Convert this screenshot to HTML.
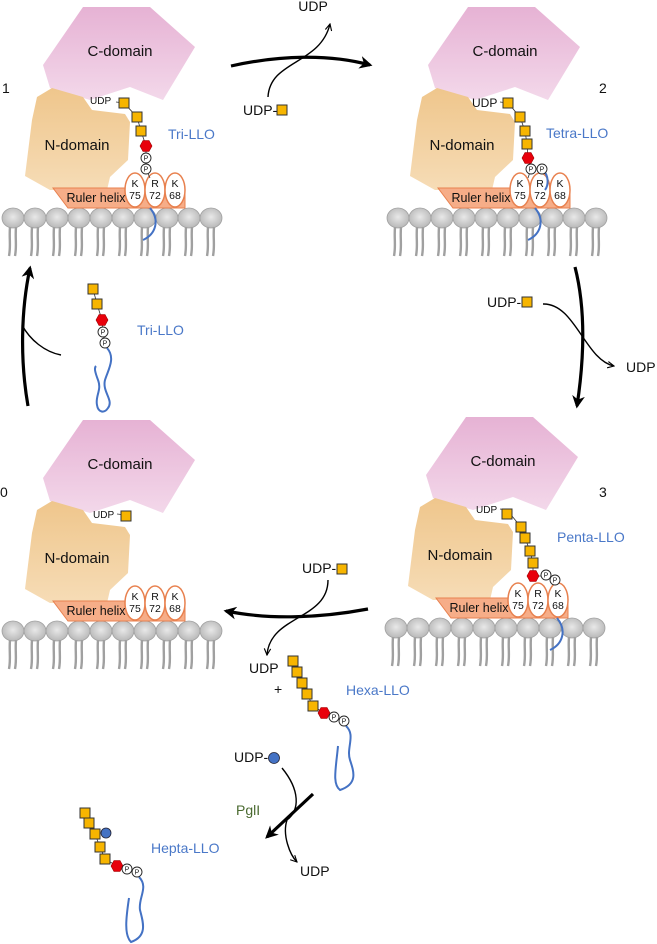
<!DOCTYPE html>
<html><head><meta charset="utf-8"><style>
html,body{margin:0;padding:0;background:#fff}
svg{display:block;font-family:"Liberation Sans",sans-serif}
</style></head><body>
<svg width="657" height="944" viewBox="0 0 657 944" xmlns="http://www.w3.org/2000/svg">
<defs>
<linearGradient id="gc" x1="0" y1="0" x2="0" y2="1"><stop offset="0" stop-color="#e6b2d4"/><stop offset="1" stop-color="#f3d8ea"/></linearGradient>
<linearGradient id="gn" x1="0" y1="0" x2="0" y2="1"><stop offset="0" stop-color="#efc68c"/><stop offset="1" stop-color="#f6dcb6"/></linearGradient>
<radialGradient id="gh" cx="0.5" cy="0.45" r="0.6"><stop offset="0" stop-color="#e8e8e8"/><stop offset="1" stop-color="#b4b4b4"/></radialGradient>
<marker id="ah" viewBox="0 0 10 10" refX="8" refY="5" markerWidth="4" markerHeight="4" orient="auto"><path d="M0,0 L10,5 L0,10 L3,5z" fill="#000"/></marker>
<marker id="at" viewBox="0 0 10 10" refX="9" refY="5" markerWidth="8" markerHeight="8" orient="auto" markerUnits="userSpaceOnUse"><path d="M1,1 L9,5 L1,9" fill="none" stroke="#000" stroke-width="1.4"/></marker>
<g id="head"><ellipse cx="0" cy="0" rx="11" ry="10" fill="url(#gh)" stroke="#a0a0a0" stroke-width="0.8"/><path d="M-3,9 C-4,20 -2,28 -4,38 M3,9 C2,20 4,28 2,38" fill="none" stroke="#a0a0a0" stroke-width="2.4"/></g>
<g id="mem">
<use href="#head" x="13" y="218"/><use href="#head" x="35" y="218"/><use href="#head" x="57" y="218"/><use href="#head" x="79" y="218"/><use href="#head" x="101" y="218"/><use href="#head" x="123" y="218"/><use href="#head" x="145" y="218"/><use href="#head" x="167" y="218"/><use href="#head" x="189" y="218"/><use href="#head" x="211" y="218"/>
</g>
<g id="prot">
<polygon points="83,7 150,7 195,47 163,100 130,87 90,100 50,88 43,65" fill="url(#gc)"/>
<polygon points="37,97 52,88 83,97 92,110 125,114 130,122 128,160 110,177 107,190 50,190 25,176 32,120" fill="url(#gn)"/>
<polygon points="53,188 185,188 185,208 68,208" fill="#f6ad88" stroke="#e8814f" stroke-width="1"/>
<ellipse cx="135" cy="190" rx="10" ry="17" fill="#fff" stroke="#e8814f" stroke-width="1.5"/>
<ellipse cx="155" cy="190" rx="10" ry="17" fill="#fff" stroke="#e8814f" stroke-width="1.5"/>
<ellipse cx="175" cy="190" rx="10" ry="17" fill="#fff" stroke="#e8814f" stroke-width="1.5"/>
</g>
<rect id="sq" x="-5" y="-5" width="10" height="10" fill="#f7b500" stroke="#333" stroke-width="1"/>
<polygon id="hx" points="-6,0 -3,-5.5 3,-5.5 6,0 3,5.5 -3,5.5" fill="#e8000b" stroke="#900" stroke-width="0.6"/>
<circle id="pc" r="5" fill="#fff" stroke="#222" stroke-width="0.9"/>
</defs>

<use href="#mem"/><use href="#prot"/>
<use href="#mem" x="385"/><use href="#prot" x="385"/>
<use href="#mem" y="413"/><use href="#prot" y="413"/>
<use href="#mem" x="383" y="410"/><use href="#prot" x="383" y="410"/>

<g font-size="15" fill="#111" text-anchor="middle">
<text x="120" y="56">C-domain</text><text x="77" y="150">N-domain</text>
<text x="505" y="56">C-domain</text><text x="462" y="150">N-domain</text>
<text x="120" y="469">C-domain</text><text x="77" y="563">N-domain</text>
<text x="503" y="466">C-domain</text><text x="460" y="560">N-domain</text>
</g>
<g font-size="12.5" fill="#111" text-anchor="middle">
<text x="96" y="202">Ruler helix</text><text x="481" y="202">Ruler helix</text>
<text x="96" y="615">Ruler helix</text><text x="479" y="612">Ruler helix</text>
</g>
<g font-size="10.5" fill="#111" text-anchor="middle">
<text x="135" y="187">K</text><text x="135" y="199">75</text><text x="155" y="187">R</text><text x="155" y="199">72</text><text x="175" y="187">K</text><text x="175" y="199">68</text>
<text x="520" y="187">K</text><text x="520" y="199">75</text><text x="540" y="187">R</text><text x="540" y="199">72</text><text x="560" y="187">K</text><text x="560" y="199">68</text>
<text x="135" y="600">K</text><text x="135" y="612">75</text><text x="155" y="600">R</text><text x="155" y="612">72</text><text x="175" y="600">K</text><text x="175" y="612">68</text>
<text x="518" y="597">K</text><text x="518" y="609">75</text><text x="538" y="597">R</text><text x="538" y="609">72</text><text x="558" y="597">K</text><text x="558" y="609">68</text>
</g>
<g font-size="14" fill="#111"><text x="2" y="93">1</text><text x="599" y="93">2</text><text x="0" y="497">0</text><text x="599" y="497">3</text></g>

<g fill="none" stroke="#4472c4" stroke-width="2">
<path d="M150,208 C160,220 156,234 143,240"/>
<path d="M535,208 C545,220 541,234 528,240"/>
<path d="M557,618 C567,630 563,644 550,650"/>
</g>

<path d="M116,102 L124,103 L137,117 L141,131 L146,146 L146,169 L150,178" fill="none" stroke="#333" stroke-width="0.8"/>
<text x="90" y="104" font-size="10" fill="#111">UDP</text>
<use href="#sq" x="124" y="103"/><use href="#sq" x="137" y="117"/><use href="#sq" x="141" y="131"/><use href="#hx" x="146" y="146"/>
<use href="#pc" x="146" y="158"/><use href="#pc" x="146" y="169"/>
<g font-size="7" text-anchor="middle" fill="#111"><text x="146" y="160.5">P</text><text x="146" y="171.5">P</text></g>
<text x="168" y="139" font-size="14" fill="#4a78c8">Tri-LLO</text>

<path d="M500,102 L508,103 L520,117 L525,131 L527,144 L528,158 L531,169 M531,169 L528,178" fill="none" stroke="#333" stroke-width="0.8"/>
<path d="M542,169 C550,176 548,186 545,190" fill="none" stroke="#4472c4" stroke-width="2"/>
<text x="472" y="107" font-size="12" fill="#111">UDP</text>
<use href="#sq" x="508" y="103"/><use href="#sq" x="520" y="117"/><use href="#sq" x="525" y="131"/><use href="#sq" x="527" y="144"/><use href="#hx" x="528" y="158"/>
<use href="#pc" x="531" y="169"/><use href="#pc" x="542" y="169"/>
<g font-size="7" text-anchor="middle" fill="#111"><text x="531" y="171.5">P</text><text x="542" y="171.5">P</text></g>
<text x="546" y="138" font-size="14" fill="#4a78c8">Tetra-LLO</text>

<text x="93" y="518" font-size="10" fill="#111">UDP</text>
<path d="M117,514 L126,515" stroke="#333" stroke-width="0.8"/>
<use href="#sq" x="126" y="516"/>

<path d="M500,509 L507,510 L521,527 L525,538 L530,551 L533,563 L533,576 L546,576 L555,581" fill="none" stroke="#333" stroke-width="0.8"/>
<text x="476" y="513" font-size="10" fill="#111">UDP</text>
<use href="#sq" x="507" y="514"/><use href="#sq" x="521" y="527"/><use href="#sq" x="525" y="538"/><use href="#sq" x="530" y="551"/><use href="#sq" x="533" y="563"/><use href="#hx" x="533" y="576"/>
<use href="#pc" x="546" y="575"/><use href="#pc" x="555" y="580"/>
<g font-size="7" text-anchor="middle" fill="#111"><text x="546" y="577.5">P</text><text x="555" y="582.5">P</text></g>
<text x="557" y="542" font-size="14" fill="#4a78c8">Penta-LLO</text>

<path d="M93,289 L97,304 L102,320 L103,332 L105,343" fill="none" stroke="#333" stroke-width="0.8"/>
<path d="M107,348 C116,358 108,370 105,380 C102,392 114,400 108,408 C104,414 98,412 97,405 C95,396 102,390 98,380 C95,372 94,368 96,366" fill="none" stroke="#4472c4" stroke-width="2"/>
<use href="#sq" x="93" y="289"/><use href="#sq" x="97" y="304"/><use href="#hx" x="102" y="320"/>
<use href="#pc" x="103" y="332"/><use href="#pc" x="105" y="343"/>
<g font-size="7" text-anchor="middle" fill="#111"><text x="103" y="334.5">P</text><text x="105" y="345.5">P</text></g>
<text x="137" y="335" font-size="14" fill="#4a78c8">Tri-LLO</text>

<path d="M293,661 L297,672 L302,683 L307,694 L313,706 L324,713 L334,717 L344,721" fill="none" stroke="#333" stroke-width="0.8"/>
<path d="M346,726 C356,735 346,748 350,760 C354,772 358,784 340,790 C332,784 336,768 338,746" fill="none" stroke="#4472c4" stroke-width="2"/>
<use href="#sq" x="293" y="661"/><use href="#sq" x="297" y="672"/><use href="#sq" x="302" y="683"/><use href="#sq" x="307" y="694"/><use href="#sq" x="313" y="706"/><use href="#hx" x="324" y="713"/>
<use href="#pc" x="334" y="717"/><use href="#pc" x="344" y="721"/>
<g font-size="7" text-anchor="middle" fill="#111"><text x="334" y="719.5">P</text><text x="344" y="723.5">P</text></g>
<text x="346" y="695" font-size="14" fill="#4a78c8">Hexa-LLO</text>
<text x="249" y="673" font-size="14" fill="#111">UDP</text>
<text x="274" y="694" font-size="14" fill="#111">+</text>

<path d="M85,813 L89,823 L95,834 L100,847 L105,859 L117,866 L127,869 L137,872" fill="none" stroke="#333" stroke-width="0.8"/>
<path d="M139,877 C149,887 138,898 140,910 C143,922 148,936 131,942 C124,935 126,918 129,898" fill="none" stroke="#4472c4" stroke-width="2"/>
<use href="#sq" x="85" y="813"/><use href="#sq" x="89" y="823"/><use href="#sq" x="95" y="834"/><use href="#sq" x="100" y="847"/><use href="#sq" x="105" y="859"/>
<circle cx="106" cy="833" r="5" fill="#4472c4" stroke="#223" stroke-width="0.8"/>
<use href="#hx" x="117" y="866"/><use href="#pc" x="127" y="869"/><use href="#pc" x="137" y="872"/>
<g font-size="7" text-anchor="middle" fill="#111"><text x="127" y="871.5">P</text><text x="137" y="874.5">P</text></g>
<text x="151" y="853" font-size="14" fill="#4a78c8">Hepta-LLO</text>
<text x="236" y="815" font-size="14" fill="#4a6a30">PglI</text>

<g font-size="14" fill="#111">
<text x="243" y="115">UDP-</text><text x="313" y="11" text-anchor="middle">UDP</text>
<text x="487" y="307">UDP-</text><text x="626" y="372">UDP</text>
<text x="302" y="573">UDP-</text>
<text x="234" y="762">UDP-</text><text x="300" y="876">UDP</text>
</g>
<use href="#sq" x="282" y="110"/><use href="#sq" x="527" y="302"/><use href="#sq" x="342" y="569"/>
<circle cx="274" cy="758" r="5.5" fill="#4472c4" stroke="#223" stroke-width="0.8"/>

<g fill="none" stroke="#000" stroke-width="3.2">
<path d="M231,66 C280,55 330,54 370,65" marker-end="url(#ah)"/>
<path d="M575,267 C586,310 584,360 577,406" marker-end="url(#ah)"/>
<path d="M368,609 C320,618 270,620 226,611" marker-end="url(#ah)"/>
<path d="M28,406 C20,360 21,310 30,268" marker-end="url(#ah)"/>
<path d="M313,794 L267,837" marker-end="url(#ah)"/>
</g>
<g fill="none" stroke="#000" stroke-width="1.4">
<path d="M268,97 C270,60 320,65 330,24" marker-end="url(#at)"/>
<path d="M543,304 C575,303 585,360 614,366" marker-end="url(#at)"/>
<path d="M328,580 C328,620 270,615 267,655" marker-end="url(#at)"/>
<path d="M282,768 C300,790 300,810 287,820 C282,835 290,855 297,862" marker-end="url(#at)"/>
<path d="M61,355 C45,352 30,340 22,325"/>
</g>
</svg>
</body></html>
